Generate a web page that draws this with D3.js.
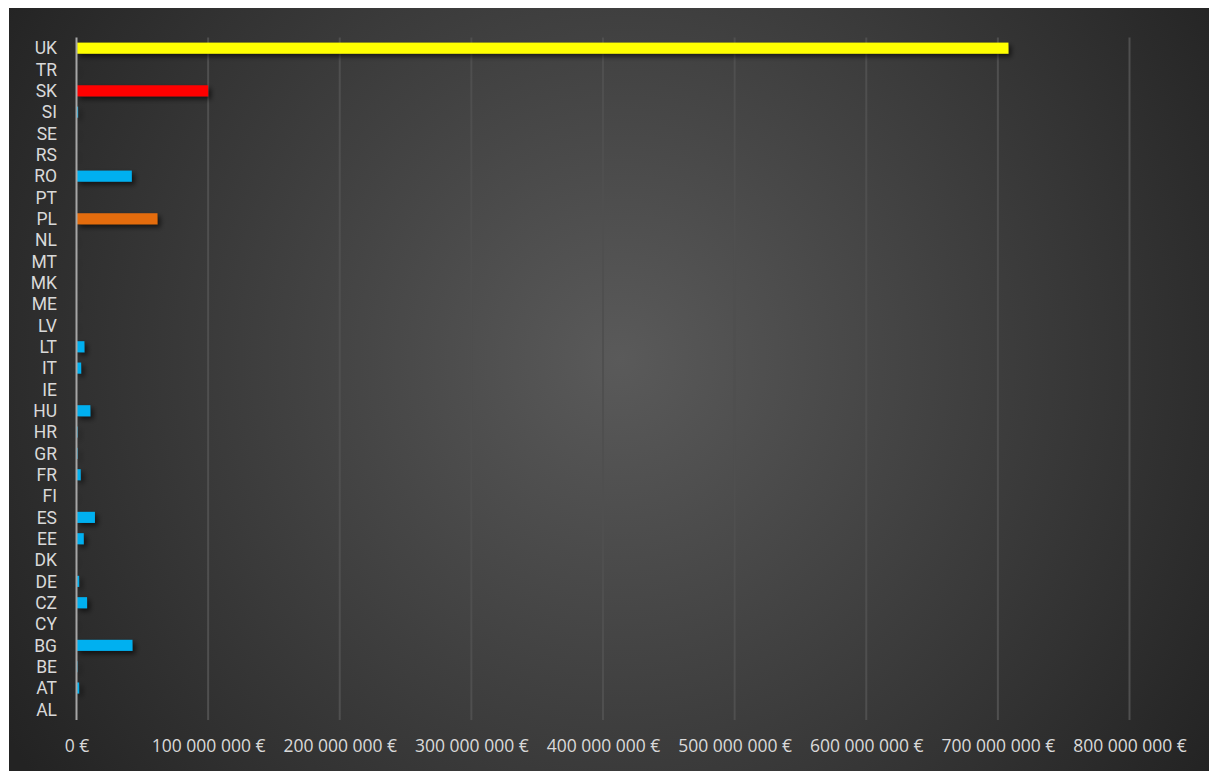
<!DOCTYPE html>
<html><head><meta charset="utf-8">
<script src="https://cdn.jsdelivr.net/npm/d3@7"></script>
<style>html,body{margin:0;padding:0;background:#fff;}svg{display:block;}</style>
</head><body>
<svg id="c" width="1209" height="771"></svg>
<script>
const categories = ["UK","TR","SK","SI","SE","RS","RO","PT","PL","NL","MT","MK","ME","LV","LT","IT","IE","HU","HR","GR","FR","FI","ES","EE","DK","DE","CZ","CY","BG","BE","AT","AL"];
const values = [708000000,300000,100000000,1200000,300000,250000,42000000,0,61500000,200000,200000,200000,200000,200000,6000000,3500000,0,10500000,800000,800000,3200000,200000,14000000,5500000,200000,2000000,8000000,200000,42500000,700000,2000000,0];
const barColors = {UK:"#FFFF00", SK:"#FF0000", PL:"#E46C0A"};
const defaultColor = "#00B0F0";
const tickValues = [0,100000000,200000000,300000000,400000000,500000000,600000000,700000000,800000000];
const tickLabels = ["0 €","100 000 000 €","200 000 000 €","300 000 000 €","400 000 000 €","500 000 000 €","600 000 000 €","700 000 000 €","800 000 000 €"];

const svg = d3.select("#c");
const defs = svg.append("defs");
const rg = defs.append("radialGradient").attr("id","bg").attr("gradientUnits","userSpaceOnUse")
  .attr("cx",620).attr("cy",360).attr("r",720);
rg.append("stop").attr("offset","0%").attr("stop-color","#5a5a5a");
rg.append("stop").attr("offset","100%").attr("stop-color","#232323");
const f = defs.append("filter").attr("id","sh").attr("x","-10%").attr("y","-50%").attr("width","130%").attr("height","250%");
f.append("feDropShadow").attr("dx",3).attr("dy",3).attr("stdDeviation",2.5).attr("flood-color","#000").attr("flood-opacity",0.6);

svg.append("rect").attr("x",9).attr("y",8).attr("width",1200).attr("height",763).attr("fill","url(#bg)");

const x = d3.scaleLinear().domain([0,800000000]).range([76.5,1129.5]);
const y = d3.scaleBand().domain(categories).range([37.5,720]).paddingInner(0.48).paddingOuter(0.24);

// gridlines
svg.append("g").selectAll("line").data(tickValues.slice(1)).join("line")
  .attr("x1",d=>x(d)).attr("x2",d=>x(d)).attr("y1",37.5).attr("y2",720)
  .attr("stroke","#4f4f4f").attr("stroke-width",2);

// bars
svg.append("g").attr("filter","url(#sh)").selectAll("rect").data(categories).join("rect")
  .attr("x",x(0)).attr("y",(d)=>y(d))
  .attr("width",(d,i)=>Math.max(0,x(values[i])-x(0)))
  .attr("height",y.bandwidth())
  .attr("fill",d=>barColors[d]||defaultColor);

// zero axis
svg.append("line").attr("x1",x(0)).attr("x2",x(0)).attr("y1",37.5).attr("y2",720)
  .attr("stroke","#a6a6a6").attr("stroke-width",2);

// y labels
const yAxis = d3.axisLeft(y).tickSize(0).tickPadding(0);
const gy = svg.append("g").attr("transform","translate(57,0)").call(yAxis);
gy.select(".domain").remove();
gy.selectAll("text").attr("fill","#d9d9d9").attr("font-family","Roboto, sans-serif").attr("font-size",17.5).attr("dy","0.36em");

// x labels
const xAxis = d3.axisBottom(x).tickValues(tickValues).tickFormat((d,i)=>tickLabels[i]).tickSize(0).tickPadding(0);
const gx = svg.append("g").attr("transform","translate(0,746)").call(xAxis);
gx.select(".domain").remove();
gx.selectAll("text").attr("fill","#d9d9d9").attr("font-family","'Open Sans', sans-serif").attr("font-size",17.5).attr("dy","0.36em");
</script>
</body></html>
